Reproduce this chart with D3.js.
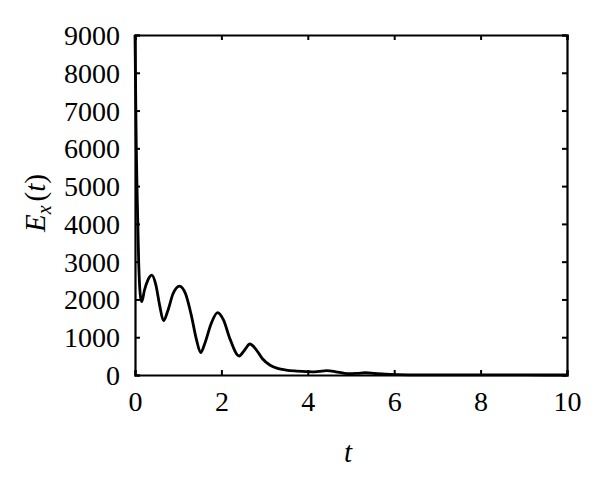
<!DOCTYPE html>
<html>
<head>
<meta charset="utf-8">
<script src="https://cdn.jsdelivr.net/npm/d3@7"></script>
<style>
html,body{margin:0;padding:0;background:#fff;}
svg{display:block;}
</style>
</head>
<body>
<svg id="chart" width="600" height="490"></svg>
<script>
// Data
const tValues = [0, 0.015, 0.03, 0.05, 0.085, 0.12, 0.155, 0.22, 0.3, 0.39, 0.48, 0.57, 0.66, 0.76, 0.88, 1.03, 1.17, 1.3, 1.42, 1.52, 1.62, 1.76, 1.91, 2.05, 2.2, 2.41, 2.53, 2.66, 2.8, 2.95, 3.12, 3.3, 3.5, 3.75, 3.97, 4.1, 4.25, 4.44, 4.65, 4.85, 4.98, 5.15, 5.33, 5.55, 5.8, 6.1, 6.5, 7.0, 8.0, 9.0, 10.0];
const eValues = [9000, 7500, 6000, 4800, 3000, 2150, 1940, 2250, 2520, 2645, 2400, 1850, 1437, 1700, 2150, 2355, 2150, 1600, 950, 590, 850, 1350, 1650, 1450, 950, 503, 650, 820, 680, 430, 265, 175, 130, 105, 90, 85, 95, 115, 85, 45, 35, 45, 60, 40, 20, 10, 5, 3, 2, 1, 0];
const xTicks = [0, 2, 4, 6, 8, 10];
const yTicks = [0, 1000, 2000, 3000, 4000, 5000, 6000, 7000, 8000, 9000];

const data = tValues.map((t, i) => ({t, e: eValues[i]}));

const svg = d3.select("#chart");
const mLeft = 135, mRight = 567, mTop = 35, mBottom = 375;
const x = d3.scaleLinear().domain([0, 10]).range([mLeft, mRight]);
const y = d3.scaleLinear().domain([0, 9000]).range([mBottom, mTop]);

const font = "'Liberation Serif', 'DejaVu Serif', serif";

// curve
const line = d3.line().x(d => x(d.t)).y(d => y(d.e)).curve(d3.curveMonotoneX);
svg.append("path").datum(data)
  .attr("d", line)
  .attr("fill", "none")
  .attr("stroke", "#000")
  .attr("stroke-width", 2.8)
  .attr("stroke-linejoin", "round");

// axes
const tickLen = 5;
const bottomAxis = svg.append("g").attr("transform", `translate(0,${mBottom})`)
  .call(d3.axisBottom(x).tickValues(xTicks).tickSize(-tickLen).tickPadding(16).tickFormat(d3.format("d")));
const topAxis = svg.append("g").attr("transform", `translate(0,${mTop})`)
  .call(d3.axisTop(x).tickValues(xTicks).tickSize(-tickLen).tickFormat(""));
const leftAxis = svg.append("g").attr("transform", `translate(${mLeft},0)`)
  .call(d3.axisLeft(y).tickValues(yTicks).tickSize(-tickLen).tickPadding(15).tickFormat(d3.format("d")));
const rightAxis = svg.append("g").attr("transform", `translate(${mRight},0)`)
  .call(d3.axisRight(y).tickValues(yTicks).tickSize(-tickLen).tickFormat(""));

[bottomAxis, topAxis, leftAxis, rightAxis].forEach(g => {
  g.select(".domain").attr("stroke", "#000").attr("stroke-width", 2.2);
  g.selectAll(".tick line").attr("stroke", "#000").attr("stroke-width", 2);
  g.selectAll(".tick text").attr("fill", "#000")
    .style("font-family", font).style("font-size", "28px");
});
bottomAxis.selectAll(".tick text").attr("dy", "0.71em");
leftAxis.selectAll(".tick text").attr("dy", "0.34em");

// axis labels
svg.append("text")
  .attr("x", 348).attr("y", 462)
  .attr("text-anchor", "middle")
  .style("font-family", font).style("font-size", "29px").style("font-style", "italic")
  .text("t");

const yl = svg.append("text")
  .attr("transform", `translate(45,203) rotate(-90)`)
  .attr("text-anchor", "middle")
  .style("font-family", font).style("font-size", "29px");
yl.append("tspan").style("font-style", "italic").text("E");
yl.append("tspan").style("font-style", "italic").style("font-size", "20px").attr("dy", 6).text("x");
yl.append("tspan").attr("dy", -6).attr("dx", 4).text("(");
yl.append("tspan").style("font-style", "italic").text("t");
yl.append("tspan").text(")");
</script>
</body>
</html>
